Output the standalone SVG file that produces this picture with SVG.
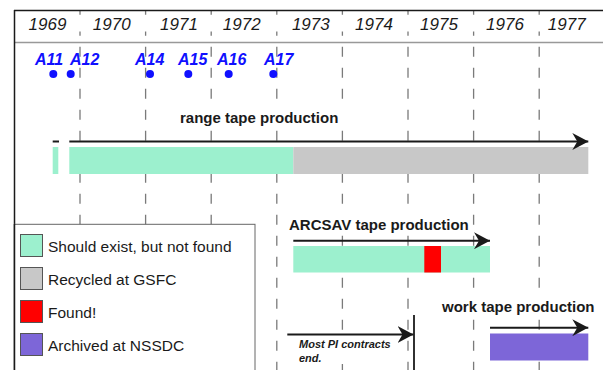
<svg xmlns="http://www.w3.org/2000/svg" width="603" height="370" viewBox="0 0 603 370">
<style>
.grid{stroke:#7a7a7a;stroke-width:1.3;stroke-dasharray:10 11;stroke-dashoffset:5.3;fill:none}
.yr{font-family:"Liberation Sans",Arial,sans-serif;font-style:italic;font-size:17px;fill:#1a1a1a;text-anchor:middle}
.ap{font-family:"Liberation Sans",Arial,sans-serif;font-style:italic;font-weight:bold;font-size:16px;fill:#1010ff}
.dot{fill:#1010ff}
.lbl{font-family:"Liberation Sans",Arial,sans-serif;font-weight:bold;font-size:15px;fill:#1a1a1a}
.note{font-family:"Liberation Sans",Arial,sans-serif;font-weight:bold;font-style:italic;font-size:11px;fill:#1a1a1a}
.leg{font-family:"Liberation Sans",Arial,sans-serif;font-size:15.5px;fill:#1a1a1a}
.arr{stroke:#1a1a1a;stroke-width:2;fill:none;marker-end:url(#ah)}
.sw{stroke:#555;stroke-width:1}
.g{fill:#9cf0ce}.gr{fill:#c8c8c8}.rd{fill:#ff0000}.pu{fill:#7d66d8}
</style>
<defs>
<marker id="ah" markerUnits="userSpaceOnUse" viewBox="0 0 16 17" refX="16" refY="8.5" markerWidth="16" markerHeight="17" orient="auto">
<path d="M0,0 L16,8.5 L0,17 L5,8.5 Z" fill="#1a1a1a"/>
</marker>
</defs>
<rect width="603" height="370" fill="#fff"/>
<g id="grid">
<line class="grid" x1="80" y1="10" x2="80" y2="370"/>
<line class="grid" x1="145.6" y1="10" x2="145.6" y2="370"/>
<line class="grid" x1="211.2" y1="10" x2="211.2" y2="370"/>
<line class="grid" x1="276.8" y1="10" x2="276.8" y2="370"/>
<line class="grid" x1="342.4" y1="10" x2="342.4" y2="370"/>
<line class="grid" x1="408" y1="10" x2="408" y2="370"/>
<line class="grid" x1="473.6" y1="10" x2="473.6" y2="370"/>
<line class="grid" x1="539.2" y1="10" x2="539.2" y2="370"/>
</g>
<g id="header">
<rect x="16" y="16.5" width="587" height="15" fill="#fff"/>
<line x1="14" y1="10.5" x2="603" y2="10.5" stroke="#1a1a1a" stroke-width="1.5"/>
<line x1="14" y1="42.5" x2="603" y2="42.5" stroke="#999" stroke-width="1.5"/>
<line x1="14.5" y1="10" x2="14.5" y2="370" stroke="#1a1a1a" stroke-width="1.5"/>
<text class="yr" x="47.5" y="30">1969</text>
<text class="yr" x="111.7" y="30">1970</text>
<text class="yr" x="179" y="30">1971</text>
<text class="yr" x="241.7" y="30">1972</text>
<text class="yr" x="310.8" y="30">1973</text>
<text class="yr" x="374" y="30">1974</text>
<text class="yr" x="439" y="30">1975</text>
<text class="yr" x="505" y="30">1976</text>
<text class="yr" x="566.7" y="30">1977</text>
</g>
<g id="missions">
<text class="ap" x="35" y="65">A11</text>
<text class="ap" x="70" y="65">A12</text>
<text class="ap" x="135" y="65">A14</text>
<text class="ap" x="178" y="65">A15</text>
<text class="ap" x="217" y="65">A16</text>
<text class="ap" x="264" y="65">A17</text>
<circle class="dot" cx="53.3" cy="74" r="4"/>
<circle class="dot" cx="70.7" cy="74" r="4"/>
<circle class="dot" cx="150" cy="74" r="4"/>
<circle class="dot" cx="188.3" cy="74" r="4"/>
<circle class="dot" cx="228.7" cy="74" r="4"/>
<circle class="dot" cx="273.3" cy="74" r="4"/>
</g>
<g id="range-tape">
<rect x="178" y="107" width="167" height="21" fill="#fff"/>
<text class="lbl" x="180" y="123">range tape production</text>
<rect class="g" x="52.7" y="147" width="5.6" height="27"/>
<rect class="g" x="69.3" y="147" width="224" height="27"/>
<rect class="gr" x="293.3" y="147" width="295" height="27"/>
</g>
<g id="arcsav-tape">
<rect x="287" y="208" width="182" height="26" fill="#fff"/>
<text class="lbl" x="289" y="229.5">ARCSAV tape production</text>
<rect class="g" x="293.3" y="246" width="196.7" height="26.5"/>
<rect class="rd" x="424.3" y="246" width="16.7" height="26.5"/>
</g>
<g id="work-tape">
<rect x="440" y="294" width="160" height="24" fill="#fff"/>
<text class="lbl" x="442" y="312">work tape production</text>
<rect class="pu" x="490" y="333.5" width="98.3" height="27"/>
</g>
<g id="pi-contracts">
<rect x="297" y="338" width="97" height="26" fill="#fff"/>
<text class="note" x="299" y="348">Most PI contracts</text>
<text class="note" x="299" y="362">end.</text>
<line x1="414" y1="315" x2="414" y2="370" stroke="#1a1a1a" stroke-width="1.8"/>
</g>
<g id="connectors">
<line x1="52.7" y1="141.5" x2="59" y2="141.5" stroke="#1a1a1a" stroke-width="2"/>
<line class="arr" x1="69.3" y1="141.5" x2="588.3" y2="141.5"/>
<line class="arr" x1="293.3" y1="240.7" x2="490" y2="240.7"/>
<line class="arr" x1="490" y1="327.7" x2="588.3" y2="327.7"/>
<line class="arr" x1="287.3" y1="334.5" x2="413.5" y2="334.5"/>
</g>
<g id="legend">
<rect x="14.5" y="224.3" width="240.5" height="160" fill="#fff" stroke="#666" stroke-width="1"/>
<line x1="14.5" y1="224" x2="14.5" y2="370" stroke="#1a1a1a" stroke-width="1.5"/>
<rect class="sw g" x="20.5" y="234.5" width="22" height="22"/>
<text class="leg" x="48" y="251.5">Should exist, but not found</text>
<rect class="sw gr" x="20.5" y="267.5" width="22" height="22"/>
<text class="leg" x="48" y="284.5">Recycled at GSFC</text>
<rect class="sw rd" x="20.5" y="300.5" width="22" height="22"/>
<text class="leg" x="48" y="317.5">Found!</text>
<rect class="sw pu" x="20.5" y="333.5" width="22" height="22"/>
<text class="leg" x="48" y="351">Archived at NSSDC</text>
</g>
</svg>
